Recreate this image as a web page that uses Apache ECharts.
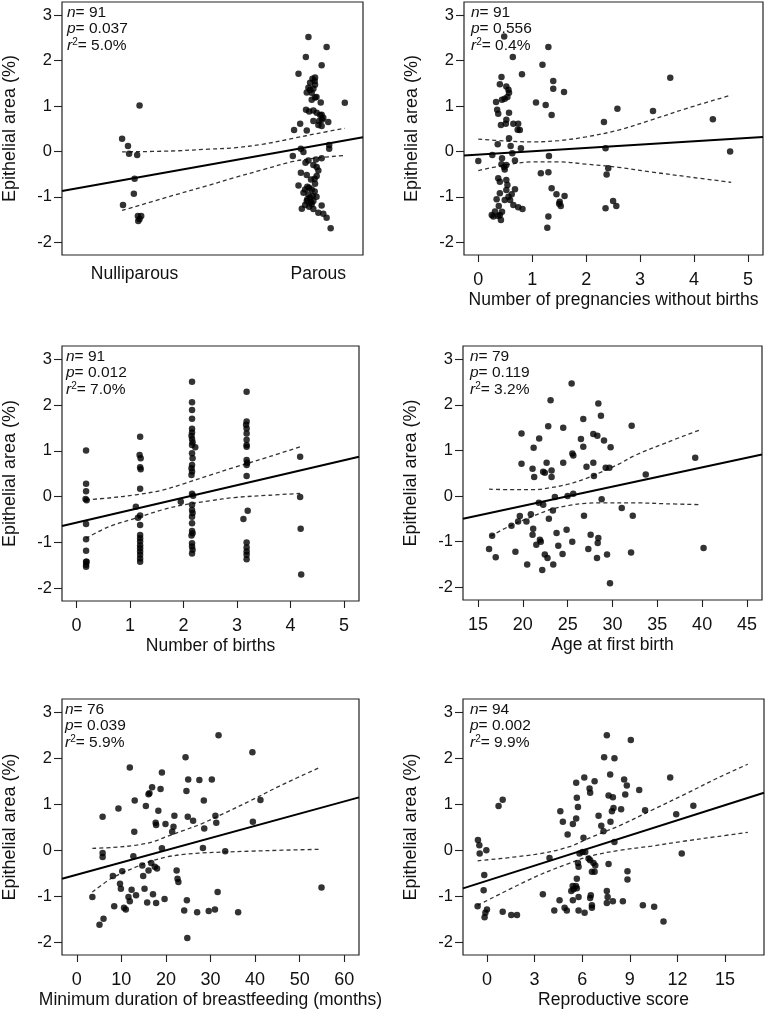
<!DOCTYPE html>
<html><head><meta charset="utf-8">
<script src="https://cdn.jsdelivr.net/npm/echarts@6/dist/echarts.min.js"></script>
<style>html,body{margin:0;padding:0;background:#fff}#c{width:771px;height:1015px}</style>
</head><body><div id="c"></div>
<script>
// ---------------- DATA ----------------
const Y_TICKS = [-2, -1, 0, 1, 2, 3];
const P1_CATS = ['Nulliparous', 'Parous'];
const P2_TICKS = [0, 1, 2, 3, 4, 5];
const P3_TICKS = [0, 1, 2, 3, 4, 5];
const P4_TICKS = [15, 20, 25, 30, 35, 40, 45];
const P5_TICKS = [0, 10, 20, 30, 40, 50, 60];
const P6_TICKS = [0, 3, 6, 9, 12, 15];

const X_TITLES = ['', 'Number of pregnancies without births', 'Number of births', 'Age at first birth', 'Minimum duration of breastfeeding (months)', 'Reproductive score'];
const Y_TITLE = 'Epithelial area (%)';
const N_VALS = ['91', '91', '91', '79', '76', '94'];
const P_VALS = ['0.037', '0.556', '0.012', '0.119', '0.039', '0.002'];
const R2_VALS = ['5.0%', '0.4%', '7.0%', '3.2%', '5.9%', '9.9%'];

// Panel 1: parity (0 = nulliparous, 1 = parous, jittered)
const p1Points = [
  [-0.068,0.28],[-0.036,0.12],[-0.03,-0.05],[0.014,-0.08],[0.027,1.01],[0,-0.60],[-0.004,-0.93],[-0.063,-1.18],[0.018,-1.42],[0.036,-1.42],[0.027,-1.49],[0.02,-1.53],
  [0.946,2.52],[1.045,2.30],[0.932,2.08],[1.018,1.90],[0.892,1.71],[0.968,1.60],[0.982,1.63],[0.955,1.51],[0.982,1.47],[0.946,1.40],[0.973,1.38],[0.937,1.30],[0.964,1.29],[0.982,1.19],[0.964,1.14],[1.013,1.08],[1.144,1.07],
  [0.933,0.92],[0.973,0.90],[0.991,0.85],[1.018,0.81],[1.027,0.74],[0.973,0.67],[1.005,0.67],[1.054,0.65],[0.901,0.61],[1.0,0.58],[1.018,0.56],[0.937,0.46],[0.868,0.47],
  [0.905,0.06],[0.919,-0.01],[1.059,0.14],[1.059,0.06],[0.861,-0.10],[0.946,-0.20],[0.987,-0.18],[1.018,-0.15],[0.973,-0.30],[0.991,-0.34],[1.0,-0.42],[0.905,-0.47],[0.937,-0.52],[0.991,-0.54],[0.982,-0.71],[0.892,-0.75],
  [0.928,-0.84],[0.964,-0.84],[0.919,-0.91],[0.946,-0.95],[0.955,-1.02],[0.937,-1.09],[0.973,-1.09],[0.928,-1.18],[0.964,-1.16],[1.018,-1.19],[0.91,-1.26],[0.973,-1.27],[1.0,-1.35],[1.027,-1.37],[1.045,-1.46],[1.067,-1.69],
  [0.955,1.35],[0.99,1.20],[1.01,0.80],[1.02,0.70],[0.96,-0.62],[0.95,-0.80],[0.98,-0.88],[0.97,-0.98],[0.94,-1.05],[0.96,-1.12],[0.95,-1.22],[0.93,-0.25],[0.98,1.55],[0.95,0.88],[0.98,-0.60],[0.99,-1.00],[0.94,-0.78]
];
const p1Fit = [[-0.395,-0.87],[1.243,0.31]];
const p1Upper = [[-0.068,-0.01],[0.2,0.01],[0.4,0.05],[0.54,0.08],[0.7,0.16],[0.865,0.29],[1.0,0.40],[1.144,0.51]];
const p1Lower = [[-0.068,-1.30],[0.2,-0.98],[0.4,-0.75],[0.54,-0.58],[0.7,-0.40],[0.865,-0.22],[1.0,-0.14],[1.144,-0.09]];

// Panel 2: pregnancies without births
const p2Points = [
  [0,-0.21],[0.26,-0.08],[0.48,2.53],[0.64,2.08],[0.81,1.70],[0.43,1.64],[0.40,1.48],
  [0.52,1.43],[0.56,1.36],[0.57,1.29],[0.54,1.20],[0.49,1.16],[0.44,1.14],
  [0.33,1.09],[0.35,0.92],[0.37,0.83],[0.57,0.85],[0.52,0.70],[0.51,0.61],[0.42,0.58],[0.65,0.61],[0.74,0.61],[0.73,0.48],[0.77,0.47],[0.57,0.29],[0.36,0.16],[0.60,0.12],[0.79,0.07],
  [0.44,-0.15],[0.63,-0.04],[0.68,-0.20],[0.43,-0.28],[0.48,-0.34],[0.52,-0.30],[0.49,-0.40],[0.37,-0.59],[0.40,-0.67],[0.52,-0.63],[0.54,-0.74],[0.52,-0.85],[0.40,-0.92],[0.68,-0.83],
  [0.62,-0.94],[0.56,-1.00],[0.59,-1.07],[0.34,-1.05],[0.49,-1.07],[0.38,-1.20],[0.65,-1.18],[0.74,-1.23],[0.82,-1.27],[0.31,-1.32],[0.25,-1.40],[0.28,-1.43],[0.44,-1.33],[0.40,-1.40],[0.42,-1.51],[0.37,-1.42],
  [1.19,1.91],[1.30,2.30],[1.39,1.55],[1.39,1.38],[1.59,1.31],[1.07,1.08],[1.25,1.02],[1.36,0.80],[1.31,-0.10],[1.16,-0.48],[1.30,-0.46],[1.36,-0.81],[1.45,-0.94],[1.60,-0.98],[1.51,-1.11],[1.53,-1.20],[1.50,-1.15],[1.30,-1.43],[1.28,-1.68],
  [2.33,0.65],[2.36,0.07],[2.58,0.94],[2.41,-0.37],[2.38,-0.51],[2.36,-1.25],[2.50,-1.09],[2.56,-1.20],[3.24,0.89],[3.56,1.62],[4.35,0.71],[4.67,0.00]
];
const p2Fit = [[-0.265,-0.09],[5.28,0.32]];
const p2Upper = [[0,0.27],[0.5,0.23],[1.0,0.21],[1.5,0.24],[2.0,0.32],[2.6,0.47],[3.2,0.69],[3.9,0.96],[4.69,1.24]];
const p2Lower = [[0,-0.42],[0.5,-0.30],[1.0,-0.23],[1.5,-0.23],[2.0,-0.28],[2.6,-0.35],[3.2,-0.45],[3.9,-0.56],[4.69,-0.68]];

// Panel 3: number of births
const p3Points = [
  [0.18,1.01],[0.18,0.28],[0.18,0.12],[0.17,-0.05],[0.19,-0.08],[0.18,-0.60],[0.18,-0.93],[0.18,-1.18],[0.18,-1.42],[0.19,-1.42],[0.18,-1.49],[0.18,-1.53],
  [1.19,1.31],[1.18,0.91],[1.20,0.84],[1.19,0.64],[1.20,0.60],[1.19,0.17],[1.11,-0.22],[1.19,-0.41],[1.15,-0.46],[1.19,-0.62],[1.19,-0.84],[1.19,-0.91],[1.19,-0.98],[1.19,-1.06],[1.19,-1.13],[1.19,-1.20],[1.19,-1.27],[1.19,-1.35],[1.19,-1.42],
  [2.16,2.51],[2.16,2.06],[2.16,1.89],[2.16,1.70],[2.16,1.48],[2.16,1.40],[2.15,1.33],[2.16,1.26],[2.17,1.19],[2.16,1.13],[2.22,1.08],[2.16,0.95],[2.17,0.84],[2.16,0.69],[2.15,0.62],[2.16,0.55],[2.15,0.47],
  [2.16,0.06],[2.18,0.02],[1.95,-0.11],[2.16,-0.18],[2.16,-0.29],[2.17,-0.36],[2.16,-0.44],[2.16,-0.58],[2.16,-0.75],[2.17,-0.80],[2.15,-0.85],[2.16,-1.02],[2.16,-1.09],[2.17,-1.16],[2.16,-1.24],
  [3.18,2.29],[3.18,1.64],[3.17,1.57],[3.18,1.49],[3.18,1.38],[3.18,1.24],[3.18,1.13],[3.18,1.09],[3.18,0.80],[3.19,0.74],[3.18,0.69],[3.18,0.45],[3.20,-0.31],[3.12,-0.49],[3.18,-1.00],[3.18,-1.11],[3.18,-1.20],[3.18,-1.27],[3.18,-1.37],
  [4.18,0.87],[4.18,-0.01],[4.19,-0.70],[4.20,-1.70]
];
const p3Fit = [[-0.27,-0.64],[5.28,0.87]];
const p3Upper = [[0.18,-0.07],[0.6,-0.03],[1.11,0.04],[1.6,0.14],[2.0,0.28],[2.5,0.47],[2.95,0.64],[3.6,0.87],[4.18,1.09]];
const p3Lower = [[0.18,-0.91],[0.6,-0.66],[1.11,-0.47],[1.6,-0.29],[2.0,-0.18],[2.5,-0.09],[2.95,-0.02],[3.6,0.03],[4.18,0.07]];

// Panel 4: age at first birth
const p4Points = [
  [25.44,2.47],[23.09,2.10],[28.42,2.03],[28.71,1.76],[26.74,1.69],[32.14,1.54],[22.83,1.53],[24.50,1.50],[19.85,1.37],[27.86,1.36],[28.31,1.32],[21.82,1.26],[26.48,1.25],[29.05,1.22],
  [26.74,1.08],[29.79,1.07],[21.2,1.06],[25.52,0.93],[25.63,0.89],[39.23,0.84],[22.65,0.73],[24.5,0.73],[27.86,0.73],[19.85,0.71],[27.1,0.64],[21.08,0.60],[29.24,0.62],[29.65,0.62],
  [23.2,0.56],[22.26,0.53],[22.45,0.51],[21.26,0.42],[23.2,0.42],[27.93,0.44],[33.71,0.47],[25.62,0.05],[24.99,0.00],[23.57,-0.02],[28.79,-0.07],[21.78,-0.15],[22.27,-0.19],
  [23.35,-0.32],[31.03,-0.26],[32.26,-0.43],[26.82,-0.43],[20.89,-0.40],[19.66,-0.44],[22.9,-0.50],[19.47,-0.56],[20.40,-0.56],[18.73,-0.65],[21.15,-0.72],[23.76,-0.81],[24.88,-0.74],
  [16.57,-0.87],[27.56,-0.85],[28.42,-0.92],[21.08,-0.85],[21.9,-0.96],[22.0,-1.00],[28.35,-1.03],[21.5,-1.07],[23.95,-1.09],[25.51,-1.00],[16.23,-1.16],[27.3,-1.16],[40.16,-1.14],
  [19.17,-1.22],[32.07,-1.24],[16.97,-1.34],[22.45,-1.28],[22.75,-1.36],[24.43,-1.27],[29.39,-1.28],[28.27,-1.36],[20.48,-1.50],[23.39,-1.50],[22.16,-1.62],[29.72,-1.91]
];
const p4Fit = [[13.32,-0.50],[46.68,0.91]];
const p4Upper = [[16.23,0.15],[18.5,0.14],[21.3,0.14],[23,0.18],[25.06,0.26],[27,0.38],[28.8,0.53],[30.7,0.70],[32.5,0.89],[36,1.17],[39.9,1.46]];
const p4Lower = [[16.4,-0.88],[18.5,-0.66],[21.3,-0.43],[23,-0.30],[25.06,-0.21],[27,-0.16],[28.8,-0.15],[32.5,-0.15],[36,-0.17],[39.9,-0.19]];

// Panel 5: minimum duration of breastfeeding (months)
const p5Points = [
  [31.8,2.50],[39.4,2.13],[24.4,2.02],[11.9,1.80],[19.1,1.69],[16.9,1.37],[25.0,1.54],[27.5,1.53],[30.3,1.54],[18.8,1.33],[16.3,1.24],[16.1,1.22],[24.6,1.29],
  [13.0,1.08],[28.5,1.08],[41.2,1.09],[9.35,0.91],[15.5,0.96],[18.3,0.86],[21.9,0.75],[24.9,0.73],[31.1,0.75],[5.8,0.73],[26.1,0.64],[17.7,0.60],[17.8,0.55],[19.9,0.57],
  [21.7,0.51],[21.4,0.40],[28.6,0.47],[31.3,0.60],[39.5,0.62],[12.9,0.40],[19.1,0.04],[28.3,0.05],[33.3,-0.02],[5.8,-0.06],[5.8,-0.15],[12.7,-0.13],[14.7,-0.33],[16.7,-0.28],
  [17.5,-0.36],[16.1,-0.44],[18.0,-0.40],[22.4,-0.44],[10.2,-0.46],[8.1,-0.56],[14.9,-0.56],[9.7,-0.73],[9.9,-0.84],[22.6,-0.62],[22.8,-0.69],[12.3,-0.86],[15.2,-0.84],
  [13.3,-0.98],[17.1,-0.96],[3.5,-1.02],[11.6,-1.02],[11.9,-1.11],[19.7,-1.06],[24.7,-1.09],[31.6,-0.91],[54.9,-0.81],[8.4,-1.22],[10.6,-1.25],[11.0,-1.29],[15.8,-1.14],
  [17.8,-1.15],[24.1,-1.31],[27.0,-1.35],[29.6,-1.32],[31.0,-1.29],[36.2,-1.35],[6.0,-1.49],[5.1,-1.62],[24.8,-1.91]
];
const p5Fit = [[-3.31,-0.62],[63.31,1.15]];
const p5Upper = [[3.5,0.04],[8,0.06],[13.4,0.11],[17,0.18],[20,0.29],[24,0.43],[28.1,0.58],[33,0.80],[39.2,1.09],[46,1.42],[54.5,1.80]];
const p5Lower = [[3.5,-0.91],[8,-0.60],[13.4,-0.36],[17,-0.23],[20,-0.15],[24,-0.09],[28.1,-0.06],[33,-0.04],[39.2,-0.02],[46,0.0],[54.5,0.02]];

// Panel 6: reproductive score
const p6Points = [
  [7.55,2.50],[9.06,2.40],[7.38,2.02],[8.03,2.00],[7.76,1.65],[11.54,1.58],[6.13,1.58],[6.78,1.50],[5.62,1.47],[8.64,1.54],[8.81,1.41],[9.59,1.31],[6.46,1.34],[6.50,1.25],
  [5.66,1.14],[7.66,1.19],[7.93,1.15],[8.71,1.21],[5.73,0.94],[0.99,1.10],[0.73,0.96],[4.62,0.85],[7.03,0.75],[7.97,0.92],[7.87,0.85],[8.45,0.89],[9.96,0.87],[13.0,0.97],
  [11.92,0.78],[4.78,0.62],[5.62,0.69],[5.41,0.57],[7.78,0.62],[7.2,0.53],[7.34,0.41],[5.08,0.34],[6.08,0.27],[8.03,0.18],[-0.57,0.22],[-0.48,0.11],[-0.46,-0.07],[-0.04,0.0],
  [-0.17,-0.54],[-0.21,-0.87],[3.94,-0.17],[5.83,-0.07],[6.02,-0.04],[6.19,-0.04],[6.40,-0.18],[6.50,-0.22],[5.73,-0.28],[5.77,-0.36],[6.71,-0.28],[6.82,-0.33],[6.61,-0.47],
  [6.78,-0.47],[7.66,-0.30],[12.27,-0.07],[8.85,-0.46],[8.85,-0.64],[5.66,-0.62],[5.4,-0.78],[5.45,-0.85],[5.66,-0.83],[5.6,-0.78],[3.52,-0.96],[4.57,-1.09],[5.31,-0.89],
  [5.41,-1.09],[5.77,-1.02],[6.54,-0.98],[6.5,-1.04],[7.55,-0.89],[7.6,-1.02],[7.55,-1.15],[7.93,-1.11],[8.56,-1.11],[6.61,-1.20],[6.61,-1.25],[5.77,-1.31],[6.15,-1.36],
  [4.24,-1.31],[4.89,-1.25],[5.03,-1.31],[9.82,-1.20],[10.53,-1.23],[11.12,-1.55],[-0.59,-1.22],[0.0,-1.29],[-0.1,-1.36],[-0.15,-1.46],[0.99,-1.34],[1.53,-1.41],[1.89,-1.41]
];
const p6Fit = [[-1.51,-0.83],[17.45,1.25]];
const p6Upper = [[-0.59,-0.23],[3.04,-0.09],[5.14,0.07],[6.61,0.29],[8.39,0.54],[10.38,0.87],[12.48,1.22],[14.58,1.58],[16.43,1.87]];
const p6Lower = [[-0.59,-1.20],[3.04,-0.58],[5.14,-0.29],[6.61,-0.12],[8.39,0.0],[10.38,0.09],[12.48,0.20],[14.58,0.30],[16.43,0.39]];

// ---------------- LAYOUT / STYLE ----------------
const FONT = "'Liberation Sans', Arial, Helvetica, sans-serif";
const TXT = '#111';
const Y_MIN = -2.28, Y_MAX = 3.29;
const LAYOUT = [
  {left: 60, top: 2, width: 303, height: 253, xmin: -0.395, xmax: 1.243},
  {left: 464, top: 2, width: 299, height: 253, xmin: -0.265, xmax: 5.28},
  {left: 59, top: 346, width: 300, height: 255, xmin: -0.27, xmax: 5.28},
  {left: 463, top: 346, width: 299, height: 254, xmin: 13.32, xmax: 46.68},
  {left: 58, top: 699, width: 301, height: 256, xmin: -3.31, xmax: 63.31},
  {left: 463, top: 699, width: 301, height: 256, xmin: -1.51, xmax: 17.45}
];
const X_TICKS = [null, P2_TICKS, P3_TICKS, P4_TICKS, P5_TICKS, P6_TICKS];
const POINTS = [p1Points, p2Points, p3Points, p4Points, p5Points, p6Points];
const FITS = [p1Fit, p2Fit, p3Fit, p4Fit, p5Fit, p6Fit];
const UPPERS = [p1Upper, p2Upper, p3Upper, p4Upper, p5Upper, p6Upper];
const LOWERS = [p1Lower, p2Lower, p3Lower, p4Lower, p5Lower, p6Lower];

const grid = [], xAxis = [], yAxis = [], series = [], graphic = [];

LAYOUT.forEach((L, i) => {
  grid.push({left: L.left, top: L.top, width: L.width, height: L.height, show: true,
    borderColor: '#222', borderWidth: 1.2, backgroundColor: 'transparent', containLabel: false});
  const isCat = i === 0;
  xAxis.push({
    type: 'value', gridIndex: i, min: L.xmin, max: L.xmax, position: 'bottom',
    axisLine: {show: false, onZero: false},
    splitLine: {show: false},
    axisTick: isCat ? {show: false} : {show: true, inside: false, length: 7, customValues: X_TICKS[i], lineStyle: {color: '#222', width: 1.1}},
    axisLabel: isCat ? {
      customValues: [0, 1], formatter: v => P1_CATS[Math.round(v)], margin: 10,
      fontFamily: FONT, fontSize: 17.5, color: TXT
    } : {
      customValues: X_TICKS[i], margin: 16, fontFamily: FONT, fontSize: 18, color: TXT
    },
    name: X_TITLES[i], nameLocation: 'middle', nameGap: 36,
    nameTextStyle: {fontFamily: FONT, fontSize: 17.5, color: TXT}
  });
  yAxis.push({
    type: 'value', gridIndex: i, min: Y_MIN, max: Y_MAX, position: 'left',
    axisLine: {show: false, onZero: false}, splitLine: {show: false},
    axisTick: {show: true, inside: false, length: 8, customValues: Y_TICKS, lineStyle: {color: '#222', width: 1.1}},
    axisLabel: {customValues: Y_TICKS, margin: 10, fontFamily: FONT, fontSize: 16.5, color: TXT},
    name: Y_TITLE, nameLocation: 'middle', nameRotate: 90, nameGap: 43,
    nameTextStyle: {fontFamily: FONT, fontSize: 18, color: TXT}
  });
  series.push({
    type: 'scatter', xAxisIndex: i, yAxisIndex: i, data: POINTS[i],
    symbol: 'circle', symbolSize: 6.5, itemStyle: {color: '#000'}, silent: true, z: 3
  });
  series.push({
    type: 'line', xAxisIndex: i, yAxisIndex: i, data: FITS[i], showSymbol: false,
    lineStyle: {color: '#000', width: 2}, silent: true, z: 2
  });
  [UPPERS[i], LOWERS[i]].forEach(d => series.push({
    type: 'line', xAxisIndex: i, yAxisIndex: i, data: d, showSymbol: false, smooth: 0.35,
    lineStyle: {color: '#333', width: 1.3, type: [4, 3]}, silent: true, z: 2
  }));
  graphic.push({
    type: 'text', left: L.left + 7, top: L.top + 2, silent: true,
    style: {
      text: '{i|n}{t|= ' + N_VALS[i] + '}\n{i|p}{t|= ' + P_VALS[i] + '}\n{i|r}{s|2}{t|= ' + R2_VALS[i] + '}',
      fontFamily: FONT, fontSize: 15.5, fill: TXT, lineHeight: 16.5,
      rich: {
        i: {fontFamily: FONT, fontSize: 15.5, fontStyle: 'italic', lineHeight: 16.5, fill: TXT},
        t: {fontFamily: FONT, fontSize: 15.5, lineHeight: 16.5, fill: TXT},
        s: {fontFamily: FONT, fontSize: 10, lineHeight: 10, verticalAlign: 'top', fill: TXT}
      }
    }
  });
});

const chart = echarts.init(document.getElementById('c'), null, {renderer: 'canvas'});
chart.setOption({
  animation: false, backgroundColor: '#fff',
  grid, xAxis, yAxis, series, graphic
});
</script></body></html>
